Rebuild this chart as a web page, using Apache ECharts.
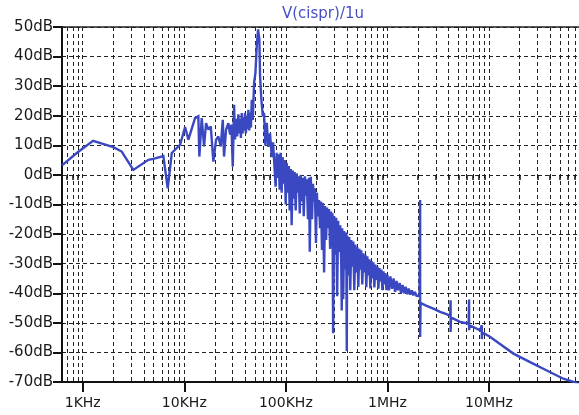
<!DOCTYPE html>
<html>
<head>
<meta charset="utf-8">
<script src="https://cdn.jsdelivr.net/npm/echarts@6/dist/echarts.min.js"></script>
<style>
html,body{margin:0;padding:0;background:#fff;}
#chart{width:579px;height:415px;}
</style>
</head>
<body>
<div id="chart"></div>
<script>
// ---- data ----
const TITLE = 'V(cispr)/1u';
const X_MIN = 625;        // Hz, left edge of plot
const X_MAX = 77000000;   // Hz, right edge of plot
const Y_MIN = -70, Y_MAX = 50, Y_STEP = 10;

const TICK_FREQ = [1e3, 1e4, 1e5, 1e6, 1e7];
const TICK_TEXT = ['1KHz', '10KHz', '100KHz', '1MHz', '10MHz'];
const MINOR_MULT = [2, 3, 4, 5, 6, 7, 8, 9];
const DECADES = [1e2, 1e3, 1e4, 1e5, 1e6, 1e7];

// [frequency Hz, level dB]
const LOW_BAND = [
  [625,3.2],[879,7.5],[1265,11.5],[2000,9.4],[2420,7.9],[3150,1.7],[4430,5.1],[4955,5.4],
  [6220,6.4],[6470,6.1],[6870,-4.5],[7530,7.4],[9090,10.2],[10180,16.2],[10970,11.9],
  [12760,19.2],[13750,19.8],[14070,6.2],[14850,19.2],[15660,9.6],[16380,17.5],[17260,15.3],
  [18230,16.4],[19330,4.5],[20550,11.9],[21650,13],[22860,9.6],[23930,18.6],[24630,6.2],
  [25780,15.3],[27170,17.5],[28240,13.6]
];

const PEAK_BAND = [
  [29100,17],[30020,2.8],[30930,23.7],[31600,12],[32380,19],[33200,13],[34080,20.5],
  [34700,14],[35400,19],[36100,12.5],[36800,20.9],[37500,14],[38190,19.5],[38900,15],
  [39660,21],[40400,14],[41230,20],[42000,15.5],[42780,22],[43600,15],[44470,21],[45300,16],
  [46170,25.4],[47240,18.6],[48680,31.1],[50170,34.5],[51700,43.5],[53250,49.2],[54850,45.8],
  [55740,33.3],[57420,25.4],[59300,19.8],[61000,21],[62830,10],[64860,17.6],[67260,9.5],
  [69870,14],[72620,6],[74820,11]
];

const NOISE_BAND = [
  [79300,-4],[81100,7.5],[83000,-1],[84900,7],[86900,-5],[88900,7.5],[90900,-6],[93000,6],
  [95200,-3],[97400,5],[99600,-10],[102000,4],[104000,-6],[107000,3],[109000,-12],[112000,2],
  [114000,-17],[117000,1.5],[120000,-8],[122000,1],[125000,-12],[128000,0.5],[131000,-6],
  [134000,-0.5],[137000,-13],[140000,0],[144000,-9],[147000,-1],[150000,-14],[154000,-0.5],
  [157000,-7],[161000,-1.5],[165000,-15],[169000,-1],[172000,-26],[176000,-0.6],[181000,-15],
  [185000,-3],[189000,-9],[193000,-4.5],[198000,-23],[202000,-6],[207000,-14],[212000,-8.5],
  [217000,-18],[222000,-9],[227000,-25.4],[232000,-9.5],[238000,-33],[243000,-10.5],
  [249000,-22],[254000,-11],[260000,-18],[266000,-11.5],[273000,-25],[279000,-12.4],
  [285000,-24],[288000,-13],[292000,-53.5],[299000,-14],[306000,-27],[313000,-14.5],
  [320000,-41],[327000,-15.5],[335000,-26],[343000,-17],[351000,-30],[355000,-45.8],
  [359000,-18],[367000,-42],[375000,-19],[384000,-32],[393000,-19.5],[398000,-59.5],
  [402000,-20.5],[411000,-34],[421000,-21],[431000,-39],[441000,-22],[451000,-31],
  [461000,-22.5],[472000,-39],[483000,-23.5],[494000,-33],[505000,-24.5],[517000,-37.9],
  [529000,-25],[541000,-32],[553000,-25.5],[566000,-37],[579000,-26.5],[592000,-33],
  [606000,-27],[620000,-38],[634000,-27.5],[649000,-34],[664000,-28.5],[679000,-38.4],
  [695000,-29],[711000,-35],[727000,-29.5],[744000,-38],[761000,-30.3],[779000,-35.5],
  [797000,-31],[815000,-38.5],[834000,-31.5],[853000,-36],[873000,-32],[893000,-39],
  [914000,-32.6],[935000,-37],[956000,-33.2],[978000,-39],
  [1000000,-33.8],[1035000,-39],[1070000,-34.3],[1110000,-38.5],[1150000,-35],[1190000,-39.5],
  [1230000,-35.8],[1270000,-39],[1320000,-36.5],[1360000,-40],[1410000,-37.2],[1460000,-40],
  [1510000,-37.8],[1570000,-40.3],[1620000,-38.4],[1680000,-40.5],[1740000,-39],[1800000,-40.7],
  [1860000,-39.6],[1930000,-40.8],[2000000,-40.5],[2070000,-41]
];

const HF_TAIL = [
  [2100000,-8.5],[2100000,-54.8],[2120000,-43.3],[2400000,-44.2],[2830000,-45.2],
  [3300000,-46.3],[3700000,-46.9],[4150000,-47.6],[4190000,-42.4],[4190000,-53.1],
  [4230000,-48.2],[4460000,-48.6],[5190000,-49.7],[6300000,-50.3],[6370000,-42.1],
  [6370000,-52.5],[6450000,-50.8],[8170000,-52.5],[8450000,-52.8],[8500000,-50.8],
  [8500000,-55.5],[8600000,-53.2],[10300000,-54.8],[17400000,-60.4],[25400000,-63.3],
  [37100000,-66.1],[54000000,-68.9],[70500000,-70.1],[77000000,-70.8]
];

// ---- chart ----
const FONT = 'DejaVu Sans';
const GRID_LINE = { type: [4, 3], color: '#222', width: 1 };
const minorTicks = [];
DECADES.forEach(d => MINOR_MULT.forEach(m => {
  const v = d * m;
  if (v > X_MIN && v < X_MAX) minorTicks.push(v);
}));

function freqLabel(v) {
  for (let i = 0; i < TICK_FREQ.length; i++) {
    if (Math.abs(Math.log10(v / TICK_FREQ[i])) < 1e-6) return TICK_TEXT[i];
  }
  return '';
}

const chart = echarts.init(document.getElementById('chart'), null, { renderer: 'canvas' });
chart.setOption({
  animation: false,
  backgroundColor: '#ffffff',
  title: {
    text: TITLE,
    left: 282, top: 7, padding: 0,
    textStyle: { fontFamily: FONT, fontSize: 15, fontWeight: 'normal', color: '#4650c6' }
  },
  grid: { left: 62, right: 0, top: 27, bottom: 33, containLabel: false },
  xAxis: [
    {
      type: 'log', logBase: 10, min: X_MIN, max: X_MAX, position: 'bottom',
      axisLine: { show: true, onZero: false, lineStyle: { color: '#111', width: 2 } },
      axisTick: { show: true, customValues: TICK_FREQ, length: 10, lineStyle: { color: '#111', width: 2 } },
      axisLabel: { show: true, customValues: TICK_FREQ, formatter: freqLabel, margin: 14,
                   fontFamily: FONT, fontSize: 14, color: '#1a1a1a' },
      splitLine: { show: true, lineStyle: GRID_LINE }
    },
    {
      type: 'log', logBase: 10, min: X_MIN, max: X_MAX, position: 'bottom',
      axisLine: { show: false },
      axisTick: { show: true, customValues: minorTicks, length: 5, lineStyle: { color: '#111', width: 1.5 } },
      axisLabel: { show: false },
      splitLine: { show: true, lineStyle: GRID_LINE }
    },
    {
      type: 'log', logBase: 10, min: X_MIN, max: X_MAX, position: 'top',
      axisLine: { show: true, onZero: false, lineStyle: { color: '#222', width: 1.5 } },
      axisTick: { show: false }, axisLabel: { show: false }, splitLine: { show: false }
    }
  ],
  yAxis: {
    type: 'value', min: Y_MIN, max: Y_MAX, interval: Y_STEP,
    axisLine: { show: true, onZero: false, lineStyle: { color: '#111', width: 2 } },
    axisTick: { show: true, length: 9, lineStyle: { color: '#111', width: 2 } },
    axisLabel: { formatter: '{value}dB', margin: 9, fontFamily: FONT, fontSize: 15, color: '#1a1a1a' },
    splitLine: { show: true, lineStyle: GRID_LINE }
  },
  series: [{
    type: 'line',
    xAxisIndex: 0, yAxisIndex: 0,
    data: LOW_BAND.concat(PEAK_BAND, NOISE_BAND, HF_TAIL),
    showSymbol: false, symbol: 'none',
    lineStyle: { color: '#3a48c2', width: 2.4, join: 'miter', miterLimit: 2 },
    clip: true,
    silent: true
  }]
});
</script>
</body>
</html>
